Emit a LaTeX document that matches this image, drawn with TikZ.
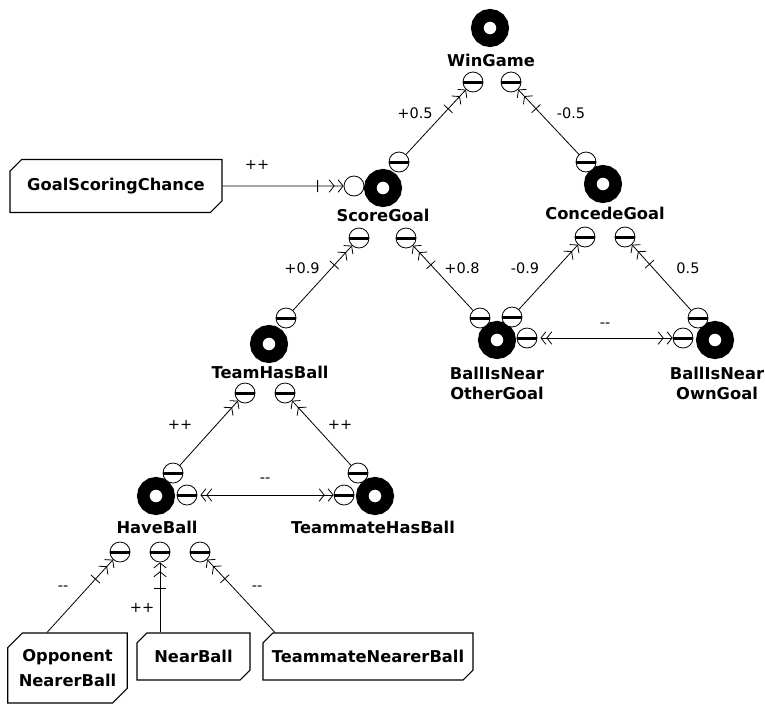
\documentclass[tikz,border=0pt]{standalone}
\usepackage{fontspec}
\setmainfont{DejaVu Sans}
\usetikzlibrary{arrows.meta,shapes.misc,decorations.markings}

\tikzset{
  goal/.style={circle, draw=black, line width=12.5pt, minimum size=25.5pt, inner sep=0pt},
  openport/.style={circle, draw=black, line width=0.8pt, fill=white, minimum size=20pt, inner sep=0pt},
  port/.style={openport,
    path picture={\draw[line width=3pt] (path picture bounding box.west) -- (path picture bounding box.east);}},
  gname/.style={font=\bfseries\fontsize{16.3}{20}\selectfont, align=center, inner sep=0pt},
  inbox/.style={chamfered rectangle, chamfered rectangle corners={north west,south east},
    chamfered rectangle xsep=11pt, draw=black, line width=1.1pt, inner sep=0pt,
    font=\bfseries\fontsize{16.3}{25}\selectfont, align=center},
  wlabel/.style={font=\fontsize{14.5}{18}\selectfont, inner sep=0pt},
  link/.style={line width=0.8pt, -{Straight Barb[length=5pt,width=12.5pt,sep=3pt]Straight Barb[length=5pt,width=12.5pt]}},
  both/.style={line width=0.8pt, {Straight Barb[length=5pt,width=12.5pt,sep=3pt]Straight Barb[length=5pt,width=12.5pt]}-{Straight Barb[length=5pt,width=12.5pt,sep=3pt]Straight Barb[length=5pt,width=12.5pt]}},
  tick/.style={postaction=decorate, decoration={markings,
    mark=at position -26pt with {\draw[line width=0.8pt, arrows=-] (0pt,-6pt) -- (0pt,6pt);}}},
}

\begin{document}
\begin{tikzpicture}[x=1pt, y=-1pt]
\useasboundingbox (0,0) rectangle (765,705);

% goals
\node[goal] (win) at (490,28) {};
\node[goal] (score) at (383,188) {};
\node[goal] (concede) at (603,184) {};
\node[goal] (team) at (269,344) {};
\node[goal] (bino) at (497,340) {};
\node[goal] (binw) at (715,340) {};
\node[goal] (have) at (156,496) {};
\node[goal] (mate) at (375,496) {};

% goal names
\node[gname] (nwin) at (491,60) {WinGame};
\node[gname] (nscore) at (383,215) {ScoreGoal};
\node[gname] (nconcede) at (605,213) {ConcedeGoal};
\node[gname] (nteam) at (270,372) {TeamHasBall};
\node[gname] (nbino) at (497,383) {BallIsNear\\OtherGoal};
\node[gname] (nbinw) at (717,383) {BallIsNear\\OwnGoal};
\node[gname] (nhave) at (157,527) {HaveBall};
\node[gname] (nmate) at (373,527) {TeammateHasBall};

% contribution ports
\node[port] (wp1) at (473,82) {};
\node[port] (wp2) at (511,82) {};
\node[openport] (sin) at (354,186) {};
\node[port] (sout) at (399,162) {};
\node[port] (sp1) at (359,238) {};
\node[port] (sp2) at (406,238) {};
\node[port] (cout) at (586,162) {};
\node[port] (cp1) at (585,237) {};
\node[port] (cp2) at (625,237) {};
\node[port] (tout) at (286,318) {};
\node[port] (tp1) at (245,393) {};
\node[port] (tp2) at (285,393) {};
\node[port] (bo1) at (480,318) {};
\node[port] (bo2) at (512,317) {};
\node[port] (bor) at (527,338) {};
\node[port] (bwt) at (698,318) {};
\node[port] (bwl) at (683,338) {};
\node[port] (hout) at (173,473) {};
\node[port] (hr) at (187,495) {};
\node[port] (hp1) at (120,552) {};
\node[port] (hp2) at (160,552) {};
\node[port] (hp3) at (200,552) {};
\node[port] (mout) at (358,473) {};
\node[port] (ml) at (344,495) {};

% input boxes
\node[inbox, minimum width=212pt, minimum height=53pt] (gsc) at (116,186) {GoalScoringChance};
\node[inbox, minimum width=115pt, minimum height=70pt] (onb) at (67.5,668) {Opponent\\NearerBall};
\node[inbox, minimum width=113pt, minimum height=47pt] (nb) at (193.5,656.5) {NearBall};
\node[inbox, minimum width=210pt, minimum height=47pt] (tnb) at (368,656.5) {TeammateNearerBall};

% links
\draw[link,tick] (sout) -- (wp1);
\draw[link,tick] (cout) -- (wp2);
\draw[link,tick] (gsc) -- (sin);
\draw[link,tick] (tout) -- (sp1);
\draw[link,tick] (bo1) -- (sp2);
\draw[link] (bo2) -- (cp1);
\draw[link,tick] (bwt) -- (cp2);
\draw[both] (bor) -- (bwl);
\draw[link] (hout) -- (tp1);
\draw[link] (mout) -- (tp2);
\draw[both] (hr) -- (ml);
\draw[link,tick] ([xshift=-20.5pt]onb.north) -- (hp1);
\draw[link,tick] ([xshift=-33.5pt]nb.north) -- (hp2);
\draw[link,tick] ([xshift=-93pt]tnb.north) -- (hp3);

% link weights
\node[wlabel] (l1) at (415,113) {+0.5};
\node[wlabel] (l2) at (571,113) {-0.5};
\node[wlabel] (l3) at (257,165) {++};
\node[wlabel] (l4) at (302,268) {+0.9};
\node[wlabel] (l5) at (462,268) {+0.8};
\node[wlabel] (l6) at (525,268) {-0.9};
\node[wlabel] (l7) at (688,268) {0.5};
\node[wlabel] (l8) at (605,325) {-{}-};
\node[wlabel] (l9) at (180,425) {++};
\node[wlabel] (l10) at (340,425) {++};
\node[wlabel] (l11) at (265,480) {-{}-};
\node[wlabel] (l12) at (63,588) {-{}-};
\node[wlabel] (l13) at (142,608) {++};
\node[wlabel] (l14) at (257,588) {-{}-};
\end{tikzpicture}
\end{document}
